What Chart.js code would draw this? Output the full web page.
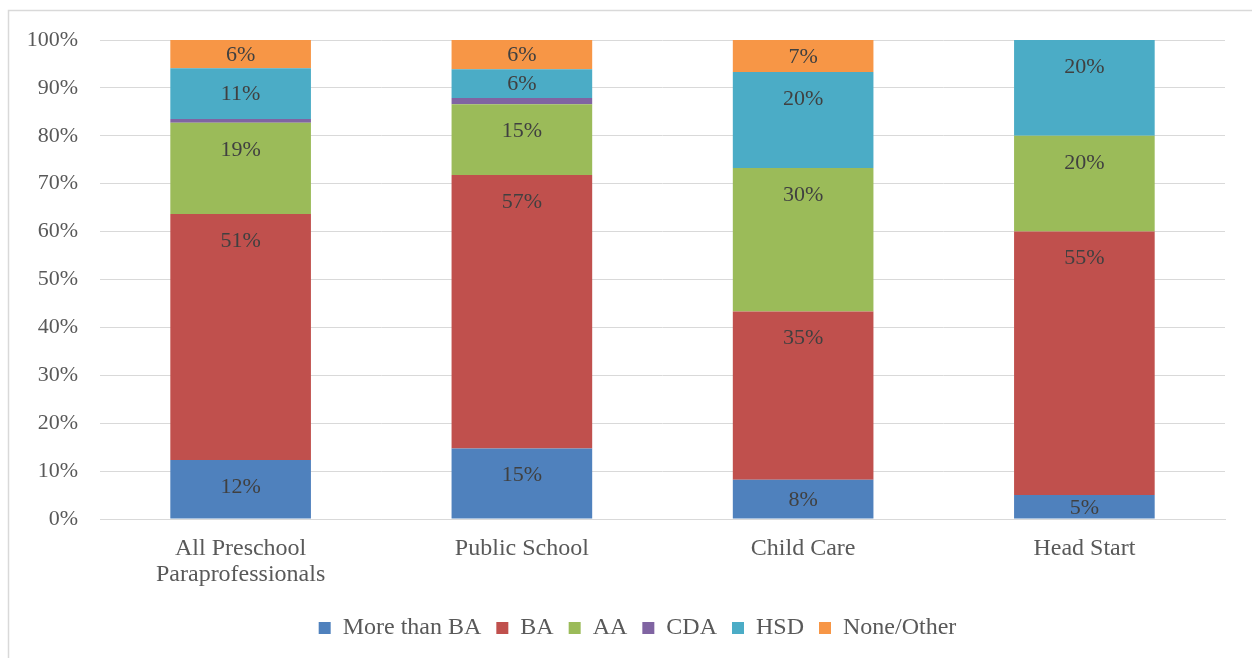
<!DOCTYPE html>
<html>
<head>
<meta charset="utf-8">
<script src="https://cdn.jsdelivr.net/npm/chart.js@4/dist/chart.umd.min.js"></script>
<style>
  html, body { margin: 0; padding: 0; background: #fff; }
  #wrap { position: relative; width: 1252px; height: 658px; }
</style>
</head>
<body>
<div id="wrap"><canvas id="chart" width="1252" height="658"></canvas></div>
<script>
// Data (percent of each group)
const categories = [["All Preschool", "Paraprofessionals"], "Public School", "Child Care", "Head Start"];
const moreThanBA = [12.3, 14.7, 8.2, 5.0];
const ba = [51.4, 57.1, 35.1, 55.0];
const aa = [19.0, 14.8, 30.0, 20.0];
const cda = [0.8, 1.3, 0, 0];
const hsd = [10.6, 6.0, 20.0, 20.0];
const noneOther = [5.9, 6.1, 6.7, 0];
const yTicks = [0, 10, 20, 30, 40, 50, 60, 70, 80, 90, 100];

const serif = "'Liberation Serif', 'Times New Roman', serif";

// Frame around the chart (top and left edges visible)
const framePlugin = {
  id: "frame",
  beforeDraw(chart) {
    // legend in the original sits a bit right of the canvas centre
    if (chart.legend) chart.legend.left = 50;
    const ctx = chart.ctx;
    ctx.save();
    ctx.strokeStyle = "#d9d9d9";
    ctx.lineWidth = 1.5;
    ctx.beginPath();
    ctx.moveTo(8.5, 660);
    ctx.lineTo(8.5, 10.5);
    ctx.lineTo(1252, 10.5);
    ctx.stroke();
    ctx.restore();
  }
};

// Value labels inside each segment, near the top
const valueLabels = {
  id: "valueLabels",
  afterDatasetsDraw(chart) {
    const ctx = chart.ctx;
    ctx.save();
    ctx.font = "22px " + serif;
    ctx.fillStyle = "#404040";
    ctx.textAlign = "center";
    ctx.textBaseline = "middle";
    chart.data.datasets.forEach((ds, i) => {
      if (ds.hideLabels) return;
      const meta = chart.getDatasetMeta(i);
      meta.data.forEach((bar, j) => {
        const v = ds.data[j];
        if (!v || v < 3) return;
        const p = bar.getProps(["x", "y", "base"], true);
        const top = Math.min(p.y, p.base);
        const bottom = Math.max(p.y, p.base);
        const y = Math.min(top + 27, (top + bottom) / 2 + 1);
        ctx.fillText(Math.round(v) + "%", p.x, y);
      });
    });
    ctx.restore();
  }
};

new Chart(document.getElementById("chart"), {
  type: "bar",
  data: {
    labels: categories,
    datasets: [
      { label: "More than BA", data: moreThanBA, backgroundColor: "#4F81BD" },
      { label: "BA", data: ba, backgroundColor: "#C0504D" },
      { label: "AA", data: aa, backgroundColor: "#9BBB59" },
      { label: "CDA", data: cda, backgroundColor: "#8064A2", hideLabels: true },
      { label: "HSD", data: hsd, backgroundColor: "#4BACC6" },
      { label: "None/Other", data: noneOther, backgroundColor: "#F79646" }
    ]
  },
  options: {
    responsive: false,
    animation: false,
    events: [],
    categoryPercentage: 1,
    barPercentage: 0.5,
    layout: { padding: { top: 40, right: 27, left: 0, bottom: 8 } },
    plugins: {
      legend: {
        position: "bottom",
        labels: {
          font: { family: serif, size: 24 },
          color: "#595959",
          boxWidth: 12,
          boxHeight: 12,
          padding: 15
        }
      },
      tooltip: { enabled: false }
    },
    scales: {
      x: {
        stacked: true,
        grid: { display: false },
        border: { display: true, color: "#d9d9d9" },
        ticks: {
          font: { family: serif, size: 24, lineHeight: 1.08 },
          color: "#595959",
          padding: 9,
          maxRotation: 0
        },
        afterFit(scale) {
          scale.height = 82;
          scale.paddingLeft = 0;
          scale.paddingRight = 0;
        }
      },
      y: {
        stacked: true,
        min: 0,
        max: 100,
        afterBuildTicks(scale) {
          scale.ticks = yTicks.map(v => ({ value: v }));
        },
        grid: { color: "#d9d9d9", drawTicks: false },
        border: { display: false },
        ticks: {
          font: { family: serif, size: 22 },
          color: "#595959",
          padding: 22,
          callback: v => v + "%"
        },
        afterFit(scale) {
          scale.width = 100;
          scale.paddingTop = 0;
          scale.paddingBottom = 0;
        }
      }
    }
  },
  plugins: [framePlugin, valueLabels]
});
</script>
</body>
</html>
